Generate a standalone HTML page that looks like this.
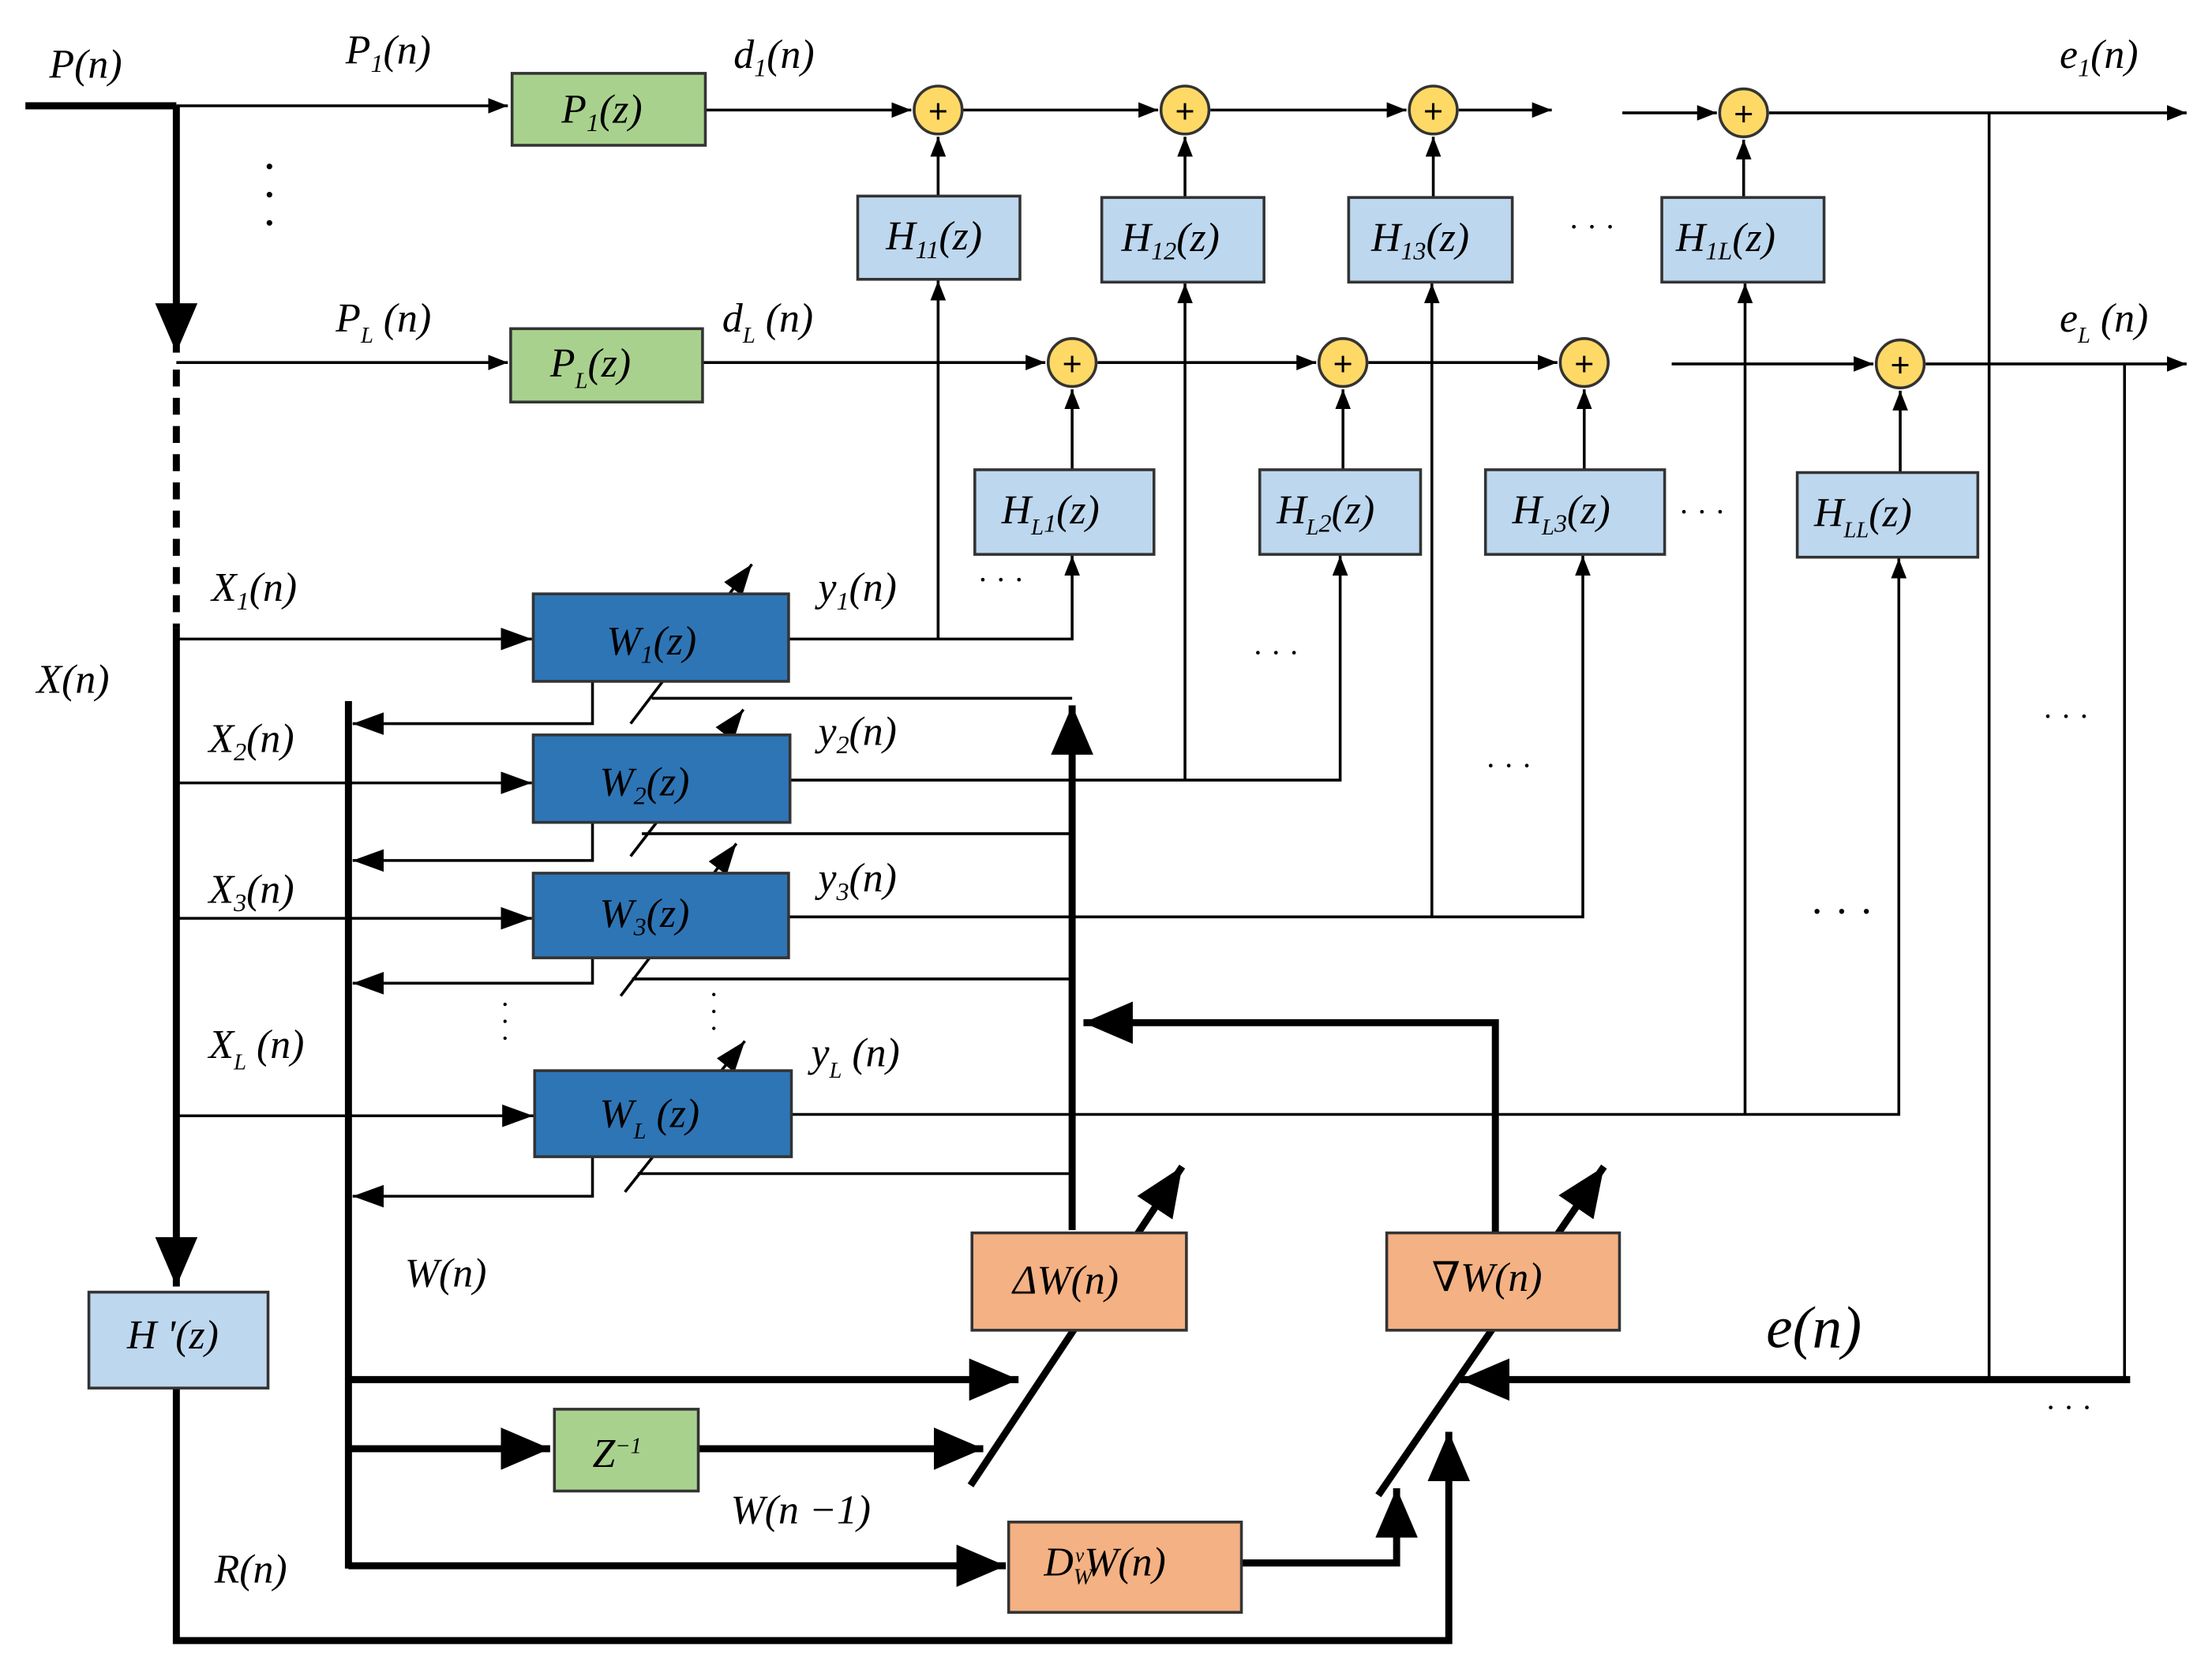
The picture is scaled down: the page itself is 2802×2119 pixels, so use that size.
<!DOCTYPE html>
<html><head><meta charset="utf-8"><style>
html,body{margin:0;padding:0;background:#fff}
svg{display:block}
text{font-family:"Liberation Serif","DejaVu Serif",serif;font-style:italic;font-size:29px;fill:#000}
.b{stroke:#333;stroke-width:2}
</style></head><body>
<svg width="2802" height="2119" viewBox="0 0 1568 1186" preserveAspectRatio="none" xmlns="http://www.w3.org/2000/svg">
<defs>
<marker id="a" viewBox="0 0 10 10" refX="10" refY="5" markerWidth="14" markerHeight="11" markerUnits="userSpaceOnUse" orient="auto" preserveAspectRatio="none"><path d="M0,0L10,5L0,10z"/></marker>
<marker id="s" viewBox="0 0 10 10" refX="10" refY="5" markerWidth="22" markerHeight="16" markerUnits="userSpaceOnUse" orient="auto" preserveAspectRatio="none"><path d="M0,0L10,5L0,10z"/></marker>
<marker id="A" viewBox="0 0 10 10" refX="10" refY="5" markerWidth="7" markerHeight="6" orient="auto" preserveAspectRatio="none"><path d="M0,0L10,5L0,10z"/></marker>
</defs>
<g fill="none" stroke="#000">
<g stroke-width="2">
<line x1="125" y1="75" x2="360" y2="75" marker-end="url(#a)"/>
<line x1="500" y1="78" x2="646" y2="78" marker-end="url(#a)"/>
<line x1="683" y1="78" x2="821" y2="78" marker-end="url(#a)"/>
<line x1="858" y1="78" x2="997" y2="78" marker-end="url(#a)"/>
<line x1="1034" y1="78" x2="1100" y2="78" marker-end="url(#a)"/>
<line x1="1150" y1="80" x2="1217" y2="80" marker-end="url(#a)"/>
<line x1="1254" y1="80" x2="1550" y2="80" marker-end="url(#a)"/>
<line x1="665" y1="139" x2="665" y2="97" marker-end="url(#a)"/>
<line x1="840" y1="140" x2="840" y2="97" marker-end="url(#a)"/>
<line x1="1016" y1="140" x2="1016" y2="97" marker-end="url(#a)"/>
<line x1="1236" y1="140" x2="1236" y2="99" marker-end="url(#a)"/>
<line x1="125" y1="257" x2="360" y2="257" marker-end="url(#a)"/>
<line x1="498" y1="257" x2="741" y2="257" marker-end="url(#a)"/>
<line x1="778" y1="257" x2="933" y2="257" marker-end="url(#a)"/>
<line x1="970" y1="257" x2="1104" y2="257" marker-end="url(#a)"/>
<line x1="1185" y1="258" x2="1328" y2="258" marker-end="url(#a)"/>
<line x1="1365" y1="258" x2="1550" y2="258" marker-end="url(#a)"/>
<line x1="760" y1="333" x2="760" y2="276" marker-end="url(#a)"/>
<line x1="952" y1="333" x2="952" y2="276" marker-end="url(#a)"/>
<line x1="1123" y1="333" x2="1123" y2="276" marker-end="url(#a)"/>
<line x1="1347" y1="335" x2="1347" y2="277" marker-end="url(#a)"/>
<polyline points="559,453 760,453 760,394" marker-end="url(#a)"/>
<line x1="665" y1="453" x2="665" y2="199" marker-end="url(#a)"/>
<polyline points="560,553 950,553 950,394" marker-end="url(#a)"/>
<line x1="840" y1="553" x2="840" y2="201" marker-end="url(#a)"/>
<polyline points="559,650 1122,650 1122,394" marker-end="url(#a)"/>
<line x1="1015" y1="650" x2="1015" y2="201" marker-end="url(#a)"/>
<polyline points="561,790 1346,790 1346,396" marker-end="url(#a)"/>
<line x1="1237" y1="790" x2="1237" y2="201" marker-end="url(#a)"/>
<line x1="125" y1="453" x2="377" y2="453" marker-end="url(#s)"/>
<line x1="125" y1="555" x2="377" y2="555" marker-end="url(#s)"/>
<line x1="125" y1="651" x2="377" y2="651" marker-end="url(#s)"/>
<line x1="125" y1="791" x2="378" y2="791" marker-end="url(#s)"/>
<polyline points="420,483 420,513 250,513" marker-end="url(#s)"/>
<polyline points="420,583 420,610 250,610" marker-end="url(#s)"/>
<polyline points="420,679 420,697 250,697" marker-end="url(#s)"/>
<polyline points="420,820 420,848 250,848" marker-end="url(#s)"/>
<line x1="447" y1="513" x2="533" y2="400" marker-end="url(#s)"/>
<line x1="447" y1="607" x2="527" y2="503" marker-end="url(#s)"/>
<line x1="440" y1="706" x2="522" y2="598" marker-end="url(#s)"/>
<line x1="443" y1="845" x2="528" y2="738" marker-end="url(#s)"/>
<line x1="462" y1="495" x2="760" y2="495"/>
<line x1="455" y1="591" x2="760" y2="591"/>
<line x1="448" y1="694" x2="760" y2="694"/>
<line x1="452" y1="832" x2="760" y2="832"/>
<line x1="1410" y1="80" x2="1410" y2="978"/>
<line x1="1506" y1="258" x2="1506" y2="978"/>
</g>
<g stroke-width="5">
<line x1="18" y1="75" x2="125" y2="75"/>
<line x1="125" y1="75" x2="125" y2="250" marker-end="url(#A)"/>
<line x1="125" y1="262" x2="125" y2="445" stroke-dasharray="12,8"/>
<line x1="125" y1="445" x2="125" y2="912" marker-end="url(#A)"/>
<line x1="247" y1="497" x2="247" y2="1112"/>
<line x1="760" y1="872" x2="760" y2="500" marker-end="url(#A)"/>
<line x1="688" y1="1053" x2="838" y2="827" marker-end="url(#A)"/>
<polyline points="1060,874 1060,725 768,725" marker-end="url(#A)"/>
<line x1="977" y1="1060" x2="1137" y2="827" marker-end="url(#A)"/>
<line x1="1510" y1="978" x2="1035" y2="978" marker-end="url(#A)"/>
<line x1="247" y1="978" x2="722" y2="978" marker-end="url(#A)"/>
<line x1="247" y1="1027" x2="390" y2="1027" marker-end="url(#A)"/>
<line x1="495" y1="1027" x2="697" y2="1027" marker-end="url(#A)"/>
<line x1="247" y1="1110" x2="713" y2="1110" marker-end="url(#A)"/>
<polyline points="880,1108 990,1108 990,1055" marker-end="url(#A)"/>
<polyline points="125,984 125,1163 1027,1163 1027,1015" marker-end="url(#A)"/>
</g>
</g>
<g class="b">
<rect x="363" y="52" width="137" height="51" fill="#a9d18e"/>
<rect x="362" y="233" width="136" height="52" fill="#a9d18e"/>
<rect x="393" y="999" width="102" height="58" fill="#a9d18e"/>
<rect x="608" y="139" width="115" height="59" fill="#bdd7ee"/>
<rect x="781" y="140" width="115" height="60" fill="#bdd7ee"/>
<rect x="956" y="140" width="116" height="60" fill="#bdd7ee"/>
<rect x="1178" y="140" width="115" height="60" fill="#bdd7ee"/>
<rect x="691" y="333" width="127" height="60" fill="#bdd7ee"/>
<rect x="893" y="333" width="114" height="60" fill="#bdd7ee"/>
<rect x="1053" y="333" width="127" height="60" fill="#bdd7ee"/>
<rect x="1274" y="335" width="128" height="60" fill="#bdd7ee"/>
<rect x="63" y="916" width="127" height="68" fill="#bdd7ee"/>
<rect x="378" y="421" width="181" height="62" fill="#2e75b6"/>
<rect x="378" y="521" width="182" height="62" fill="#2e75b6"/>
<rect x="378" y="619" width="181" height="60" fill="#2e75b6"/>
<rect x="379" y="759" width="182" height="61" fill="#2e75b6"/>
<rect x="689" y="874" width="152" height="69" fill="#f4b183"/>
<rect x="983" y="874" width="165" height="69" fill="#f4b183"/>
<rect x="715" y="1079" width="165" height="64" fill="#f4b183"/>
</g>
<g fill="#ffd966" stroke="#333" stroke-width="2">
<circle cx="665" cy="78" r="17"/><circle cx="840" cy="78" r="17"/><circle cx="1016" cy="78" r="17"/><circle cx="1236" cy="80" r="17"/>
<circle cx="760" cy="257" r="17"/><circle cx="952" cy="257" r="17"/><circle cx="1123" cy="257" r="17"/><circle cx="1347" cy="258" r="17"/>
</g>
<g text-anchor="middle">
<text x="665" y="87" style="font-style:normal;font-family:'Liberation Sans';font-size:24px">+</text><text x="840" y="87" style="font-style:normal;font-family:'Liberation Sans';font-size:24px">+</text><text x="1016" y="87" style="font-style:normal;font-family:'Liberation Sans';font-size:24px">+</text><text x="1236" y="89" style="font-style:normal;font-family:'Liberation Sans';font-size:24px">+</text>
<text x="760" y="266" style="font-style:normal;font-family:'Liberation Sans';font-size:24px">+</text><text x="952" y="266" style="font-style:normal;font-family:'Liberation Sans';font-size:24px">+</text><text x="1123" y="266" style="font-style:normal;font-family:'Liberation Sans';font-size:24px">+</text><text x="1347" y="267" style="font-style:normal;font-family:'Liberation Sans';font-size:24px">+</text>
</g>
<text x="35" y="55">P(n)</text>
<text x="245" y="45">P<tspan style="font-size:18px" dy="6">1</tspan><tspan dy="-6">(n)</tspan></text>
<text x="398" y="87">P<tspan style="font-size:18px" dy="6">1</tspan><tspan dy="-6">(z)</tspan></text>
<text x="520" y="48">d<tspan style="font-size:18px" dy="6">1</tspan><tspan dy="-6">(n)</tspan></text>
<text x="1460" y="48">e<tspan style="font-size:18px" dy="6">1</tspan><tspan dy="-6">(n)</tspan></text>
<text x="238" y="235">P<tspan style="font-size:16px" dy="8">L</tspan><tspan dy="-8"> (n)</tspan></text>
<text x="390" y="267">P<tspan style="font-size:16px" dy="8">L</tspan><tspan dy="-8">(z)</tspan></text>
<text x="512" y="235">d<tspan style="font-size:16px" dy="8">L</tspan><tspan dy="-8"> (n)</tspan></text>
<text x="1460" y="235">e<tspan style="font-size:16px" dy="8">L</tspan><tspan dy="-8"> (n)</tspan></text>
<text x="628" y="177">H<tspan style="font-size:18px" dy="6">11</tspan><tspan dy="-6">(z)</tspan></text>
<text x="795" y="178">H<tspan style="font-size:18px" dy="6">12</tspan><tspan dy="-6">(z)</tspan></text>
<text x="972" y="178">H<tspan style="font-size:18px" dy="6">13</tspan><tspan dy="-6">(z)</tspan></text>
<text x="1188" y="178">H<tspan style="font-size:18px" dy="6">1L</tspan><tspan dy="-6">(z)</tspan></text>
<text x="710" y="371">H<tspan style="font-size:16px" dy="8">L</tspan><tspan style="font-size:18px" dy="-2">1</tspan><tspan dy="-6">(z)</tspan></text>
<text x="905" y="371">H<tspan style="font-size:16px" dy="8">L</tspan><tspan style="font-size:18px" dy="-2">2</tspan><tspan dy="-6">(z)</tspan></text>
<text x="1072" y="371">H<tspan style="font-size:16px" dy="8">L</tspan><tspan style="font-size:18px" dy="-2">3</tspan><tspan dy="-6">(z)</tspan></text>
<text x="1286" y="373">H<tspan style="font-size:16px" dy="8">LL</tspan><tspan dy="-8">(z)</tspan></text>
<text x="430" y="464">W<tspan style="font-size:18px" dy="6">1</tspan><tspan dy="-6">(z)</tspan></text>
<text x="425" y="564">W<tspan style="font-size:18px" dy="6">2</tspan><tspan dy="-6">(z)</tspan></text>
<text x="425" y="657">W<tspan style="font-size:18px" dy="6">3</tspan><tspan dy="-6">(z)</tspan></text>
<text x="425" y="799">W<tspan style="font-size:16px" dy="8">L</tspan><tspan dy="-8"> (z)</tspan></text>
<text x="580" y="426">y<tspan style="font-size:18px" dy="6">1</tspan><tspan dy="-6">(n)</tspan></text>
<text x="580" y="528">y<tspan style="font-size:18px" dy="6">2</tspan><tspan dy="-6">(n)</tspan></text>
<text x="580" y="632">y<tspan style="font-size:18px" dy="6">3</tspan><tspan dy="-6">(n)</tspan></text>
<text x="575" y="756">y<tspan style="font-size:16px" dy="8">L</tspan><tspan dy="-8"> (n)</tspan></text>
<text x="150" y="426">X<tspan style="font-size:18px" dy="6">1</tspan><tspan dy="-6">(n)</tspan></text>
<text x="148" y="533">X<tspan style="font-size:18px" dy="6">2</tspan><tspan dy="-6">(n)</tspan></text>
<text x="148" y="640">X<tspan style="font-size:18px" dy="6">3</tspan><tspan dy="-6">(n)</tspan></text>
<text x="148" y="750">X<tspan style="font-size:16px" dy="8">L</tspan><tspan dy="-8"> (n)</tspan></text>
<text x="26" y="491">X(n)</text>
<text x="90" y="956">H '(z)</text>
<text x="718" y="917">ΔW(n)</text>
<text x="1015" y="915">∇W(n)</text>
<text x="740" y="1117">D<tspan style="font-size:16px" dy="6">W</tspan><tspan style="font-size:14px" dy="-16" dx="-12">v</tspan><tspan dy="10">W(n)</tspan></text>
<text x="420" y="1040">Z<tspan style="font-size:16px" dy="-10">−1</tspan></text>
<text x="287" y="912">W(n)</text>
<text x="518" y="1080">W(n −1)</text>
<text x="152" y="1122">R(n)</text>
<text x="1252" y="955" style="font-size:42px">e(n)</text>
<g>
<text x="1112" y="168" style="font-style:normal;font-size:22px">· · ·</text><text x="1190" y="370" style="font-style:normal;font-size:22px">· · ·</text><text x="693" y="418" style="font-style:normal;font-size:22px">· · ·</text>
<text x="888" y="470" style="font-style:normal;font-size:22px">· · ·</text><text x="1053" y="550" style="font-style:normal;font-size:22px">· · ·</text><text x="1448" y="515" style="font-style:normal;font-size:22px">· · ·</text>
<text x="1283" y="656" style="font-style:normal;font-size:30px">· · ·</text><text x="1450" y="1005" style="font-style:normal;font-size:22px">· · ·</text>
</g>
<g fill="#000"><circle cx="191" cy="118" r="2"/><circle cx="191" cy="138" r="2"/><circle cx="191" cy="158" r="2"/>
<circle cx="358" cy="712" r="1.2"/><circle cx="358" cy="724" r="1.2"/><circle cx="358" cy="736" r="1.2"/>
<circle cx="506" cy="705" r="1.2"/><circle cx="506" cy="717" r="1.2"/><circle cx="506" cy="729" r="1.2"/></g>
</svg>
</body></html>
